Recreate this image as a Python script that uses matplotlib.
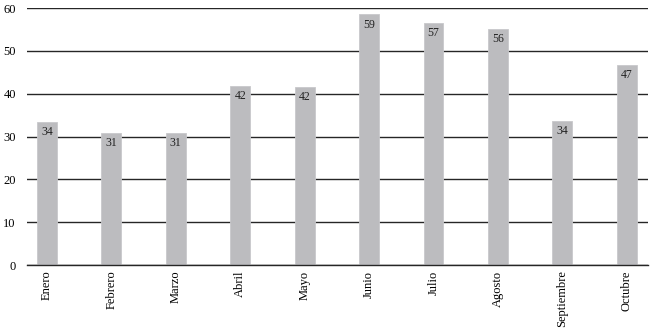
import matplotlib.pyplot as plt

months = ['Enero', 'Febrero', 'Marzo', 'Abril', 'Mayo', 'Junio',
          'Julio', 'Agosto', 'Septiembre', 'Octubre']
values = [33.5, 30.9, 30.9, 41.8, 41.6, 58.5, 56.6, 55.2, 33.6, 46.7]
labels = ['34', '31', '31', '42', '42', '59', '57', '56', '34', '47']

plt.rcParams['font.family'] = ['Liberation Serif', 'DejaVu Serif']

fig = plt.figure(figsize=(6.5, 3.29), dpi=100)
ax = fig.add_axes([0.0415, 0.1945, 0.9555, 0.781])

x = list(range(len(months)))
ax.set_axisbelow(True)
ax.yaxis.grid(True, color='#262626', linewidth=1.0)
bars = ax.bar(x, values, width=0.31, color='#bcbcbf', edgecolor='#c8c8cb',
              linewidth=0.6, zorder=2)

for xi, v, lab in zip(x, values, labels):
    ax.text(xi, v - 1.0, lab, ha='center', va='top', fontsize=8.5,
            color='#222222', zorder=3)

ax.set_ylim(0, 60)
ax.set_xlim(-0.31, 9.33)
ax.set_yticks(range(0, 61, 10))
ax.set_xticks(x)
ax.set_xticklabels(months, rotation=90, fontsize=9)
ax.tick_params(axis='y', labelsize=9, length=0, pad=8)
ax.tick_params(axis='x', length=0, pad=4)
for s in ['top', 'right', 'left']:
    ax.spines[s].set_visible(False)
ax.spines['bottom'].set_color('#262626')
ax.spines['bottom'].set_linewidth(1.0)

fig.savefig('out.png', dpi=100)
